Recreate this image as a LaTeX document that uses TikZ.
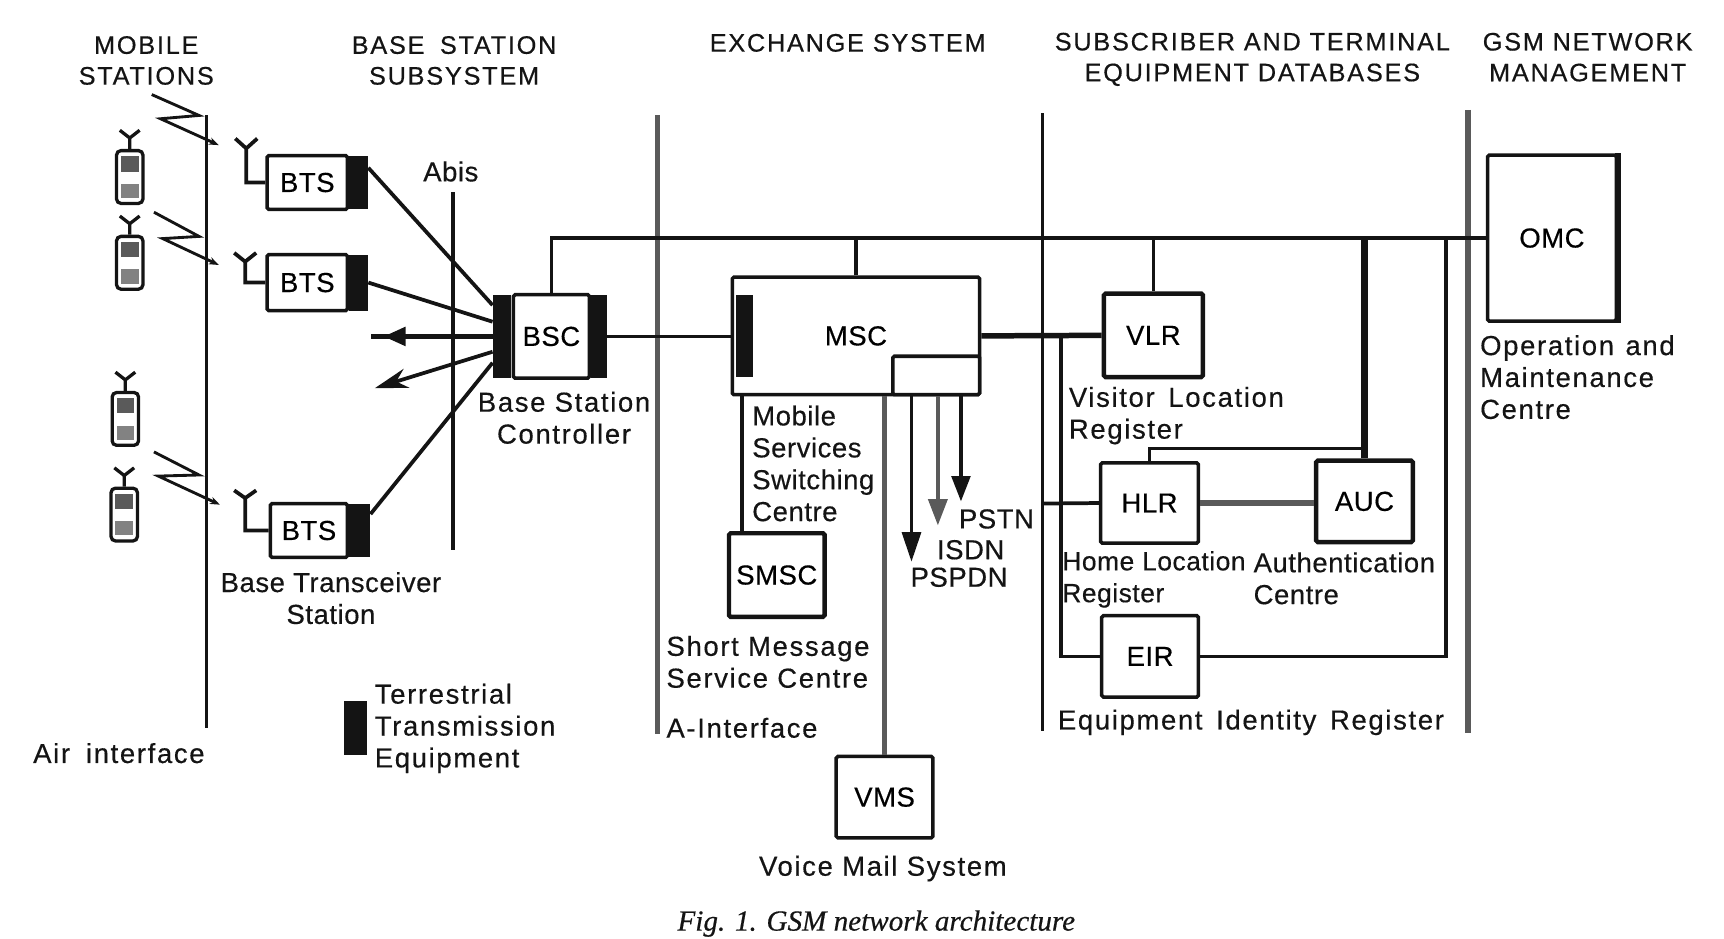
\documentclass[tikz,border=0pt]{standalone}
\usepackage{fontspec}
\setmainfont[LetterSpace=2,FakeBold=0.4]{Liberation Sans}
\newfontfamily\widefont[LetterSpace=6,FakeBold=0.4]{Liberation Sans}
\newfontfamily\headfont[LetterSpace=7,FakeBold=0.5]{Liberation Sans}
\newfontfamily\capfont[FakeBold=0.5]{Liberation Serif}
\usetikzlibrary{arrows.meta, positioning}
\definecolor{ink}{RGB}{20,20,20}
\definecolor{midgray}{RGB}{90,90,90}
\definecolor{softgray}{RGB}{130,130,130}
\tikzset{
  unit/.style={draw=ink, line width=3.2pt, fill=white, rounded corners=1.5pt, inner sep=0pt, font=\fontsize{25}{29}\selectfont},
  band/.style={fill=ink, inner sep=0pt, minimum width=17pt},
  handset/.style={draw=ink, line width=3pt, fill=white, rounded corners=4pt, minimum width=24pt, minimum height=48pt, inner sep=0pt},
  heading/.style={align=center, font=\headfont\fontsize{23}{28}\selectfont, text=ink},
  note/.style={align=left, anchor=west, inner sep=0pt, font=\fontsize{25}{29}\selectfont, text=ink},
  widenote/.style={note, font=\widefont\fontsize{25}{29}\selectfont},
  centred/.style={align=center, inner sep=0pt, font=\fontsize{25}{29}\selectfont, text=ink},
  link/.style={ink, line width=3.4pt},
  heavy/.style={ink, line width=5pt},
  divider/.style={ink, line width=3pt},
  greyline/.style={midgray, line width=5pt},
  blockhead/.style={-{Triangle[length=#1, width=17pt]}}
}

\begin{document}
\begin{tikzpicture}[x=1pt, y=-1pt]
  \useasboundingbox (0,0) rectangle (1568,854);

  % Headings
  \node[heading] (hmobile) at (133,55) {MOBILE\\STATIONS};
  \node[heading] (hbase) at (413,55) {BASE\hspace{6pt} STATION\\SUBSYSTEM};
  \node[heading] (hexchange) at (771,39) {EXCHANGE SYSTEM};
  \node[heading] (hsubscriber) at (1139,54) {SUBSCRIBER AND TERMINAL\\EQUIPMENT DATABASES};
  \node[heading] (hgsm) at (1444,52) {GSM NETWORK\\MANAGEMENT};

  % Dividers
  \draw[divider] (188,105) -- (188,662);
  \draw[divider] (412,175) -- (412,500);
  \draw[midgray, line width=4pt] (598,105) -- (598,668);
  \draw[divider] (948,103) -- (948,665);
  \draw[midgray, line width=6pt] (1335,100) -- (1335,667);

  % Mobile stations
  \foreach \n/\px/\py in {a/118/161, b/118/239, c/114/381, d/113/468} {
    \node[handset] (phone\n) at (\px,\py) {};
    \fill[midgray] (\px-8,\py-19) rectangle (\px+8,\py-5);
    \fill[softgray] (\px-8,\py+6) rectangle (\px+8,\py+19);
    \draw[ink, line width=3pt] (phone\n.north) -- ++(0,-10) -- ++(-9,-7) ++(9,7) -- ++(9,-7);
  }

  % Radio paths
  \draw[link, line width=2.6pt, -{Stealth[length=9pt]}] (138,86) -- (181,105) -- (146,108) -- (199,132);
  \draw[link, line width=2.6pt, -{Stealth[length=9pt]}] (140,193) -- (181,215) -- (148,217) -- (199,241);
  \draw[link, line width=2.6pt, -{Stealth[length=9pt]}] (140,411) -- (181,432) -- (144,433) -- (200,459);

  % Base transceiver stations
  \node[unit, minimum width=73pt, minimum height=49pt] (BTSa) at (279.5,166) {BTS};
  \node[band, minimum height=49pt, right=0pt of BTSa] (BTSaT) {};
  \node[unit, minimum width=73pt, minimum height=51pt] (BTSb) at (279.5,257) {BTS};
  \node[band, minimum height=51pt, right=0pt of BTSb] (BTSbT) {};
  \node[unit, minimum width=70pt, minimum height=49pt] (BTSc) at (281,482.5) {BTS};
  \node[band, minimum width=19pt, minimum height=49pt, right=0pt of BTSc] (BTScT) {};

  % Antennas
  \coordinate (ANTa) at (224,135);
  \coordinate (ANTb) at (223,238);
  \coordinate (ANTc) at (223,453);
  \draw[link] (BTSa.west) -| (ANTa) -- ++(-10,-9) ++(10,9) -- ++(10,-9);
  \draw[link] (BTSb.west) -| (ANTb) -- ++(-10,-8) ++(10,8) -- ++(10,-8);
  \draw[link] (BTSc.west) -| (ANTc) -- ++(-10,-7) ++(10,7) -- ++(10,-7);

  % Base station controller
  \node[unit, minimum width=69pt, minimum height=76pt] (BSC) at (501.5,306) {BSC};
  \node[band, minimum height=76pt, left=0pt of BSC] (BSCl) {};
  \node[band, minimum width=14pt, minimum height=76pt, right=0pt of BSC] (BSCr) {};

  \coordinate (ABISa) at (337,306);
  \coordinate (ABIStip) at (349,306);
  \coordinate (ABISb) at (341,353);
  \draw[link] (BTSaT.57) -- (BSCl.107.5);
  \draw[link] (BTSbT.east) -- (BSCl.123);
  \draw[link, line width=4pt] (BSCl.west) -- (ABISa);
  \draw[link, -{Triangle[length=20pt, width=17pt]}] (BSCl.west) -- (ABIStip);
  \draw[link, -{Stealth[length=30pt, width=18pt]}] (BSCl.238.7) -- (ABISb);
  \draw[link] (BTScT.57) -- (BSCl.250.5);

  % Exchange
  \node[unit, minimum width=225pt, minimum height=107pt] (MSC) at (778.5,305.5) {MSC};
  \node[band, minimum width=16pt, minimum height=75pt, anchor=west] (MSCt) at (669,305.5) {};
  \node[unit, minimum width=79pt, minimum height=35pt, anchor=south east] (MSCsub) at (MSC.south east) {};
  \node[unit, line width=4pt, minimum width=87pt, minimum height=76pt] (SMSC) at (706.5,523) {SMSC};
  \node[unit, minimum width=88pt, minimum height=74pt] (VMS) at (804.5,725) {VMS};

  \coordinate (SMSCtap) at (675,359);
  \coordinate (PSPDNend) at (829,511);
  \coordinate (ISDNend) at (853,478);
  \coordinate (PSTNend) at (874,456);
  \draw[link] (BSCr.east) -- (MSC.west |- BSCr.east);
  \draw[link] (SMSCtap) -- (SMSCtap |- SMSC.north);
  \draw[greyline] (VMS.north |- MSC.south) -- (VMS.north);
  \draw[link, line width=3.6pt, blockhead=27pt] (PSPDNend |- MSC.south) -- (PSPDNend);
  \draw[greyline, line width=4pt, blockhead=24pt] (ISDNend |- MSC.south) -- (ISDNend);
  \draw[link, line width=3pt, blockhead=23pt] (PSTNend |- MSC.south) -- (PSTNend);

  % Databases
  \node[unit, line width=4pt, minimum width=90pt, minimum height=76pt] (VLR) at (1049,305) {VLR};
  \node[unit, minimum width=89pt, minimum height=73pt] (HLR) at (1045.5,457.5) {HLR};
  \node[unit, line width=4pt, minimum width=88pt, minimum height=74pt] (AUC) at (1241,456) {AUC};
  \node[unit, minimum width=88pt, minimum height=74pt] (EIR) at (1046,597) {EIR};
  \node[unit, minimum width=117pt, minimum height=151pt] (OMC) at (1411.5,216.5) {OMC};
  \draw[heavy] (OMC.north east) -- (OMC.south east);

  \coordinate (HLRtap) at (1241,408);
  \coordinate (HLRfeed) at (948,458);
  \coordinate (EIRtap) at (965,306);
  \coordinate (EIRbus) at (1315,216.5);

  % Signalling bus
  \draw[link] (BSC.north) |- (OMC.west);
  \draw[link] (MSC.north) -- (MSC.north |- OMC.west);
  \draw[link] (VLR.north) -- (VLR.north |- OMC.west);
  \draw[heavy, line width=6pt] (AUC.north) -- (AUC.north |- OMC.west);
  \draw[link] (HLR.north) |- (HLRtap);
  \draw[link] (EIR.east) -| (EIRbus);
  \draw[heavy] (MSC.east) -- (VLR.west);
  \draw[link] (EIR.west) -| (EIRtap);
  \draw[link] (HLR.west) -- (HLRfeed);
  \draw[greyline] (HLR.east) -- (HLR.east -| AUC.west);

  % Labels
  \node[centred] (labis) at (410,156) {Abis};
  \node[centred, font=\widefont\fontsize{25}{29}\selectfont] (lbsc) at (513,380) {Base Station\\Controller};
  \node[centred] (lbts) at (301,544) {Base Transceiver\\Station};
  \node[note] (lmsc) at (684,421.5) {Mobile\\Services\\Switching\\Centre};
  \node[widenote] (lsmsc) at (606,602) {Short Message\\Service Centre};
  \node[widenote] (laif) at (606,662) {A-Interface};
  \node[widenote] (lair) at (30,685) {Air\hspace{6pt} interface};
  \node[note] (lpstn) at (872,472) {PSTN};
  \node[note] (lisdn) at (852,500) {ISDN};
  \node[note] (lpspdn) at (828,525) {PSPDN};
  \node[widenote] (lvlr) at (972,378) {Visitor\hspace{4pt} Location\\Register};
  \node[note, font=\fontsize{24}{29}\selectfont] (lhlr) at (966,527) {Home Location\\Register};
  \node[note] (lauc) at (1140,526) {Authentication\\Centre};
  \node[widenote] (leir) at (962,657) {Equipment\hspace{4pt} Identity\hspace{4pt} Register};
  \node[widenote] (lomc) at (1346,343) {Operation\hspace{2pt} and\\Maintenance\\Centre};
  \node[centred, font=\widefont\fontsize{25}{29}\selectfont] (lvms) at (803,790) {Voice Mail System};

  % Legend
  \node[band, minimum width=21pt, minimum height=49pt] (legendT) at (323,662.5) {};
  \node[widenote, right=7pt of legendT] (llegend) {Terrestrial\\Transmission\\Equipment};

  % Caption
  \node[centred, font=\capfont\itshape\fontsize{26.5}{29}\selectfont] (lcaption) at (797,840) {Fig. 1. GSM network architecture};
\end{tikzpicture}
\end{document}
